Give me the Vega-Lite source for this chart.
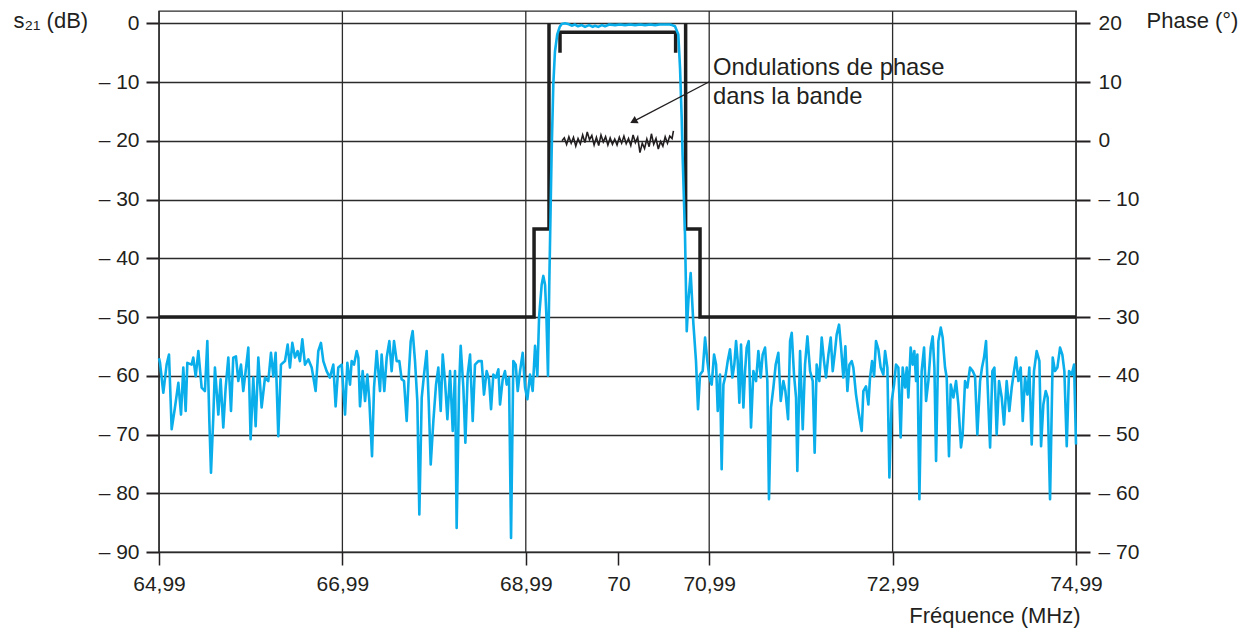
{
"$schema":"https://vega.github.io/schema/vega-lite/v6.json",
"width":917,"height":541,
"autosize":{"type":"none"},
"padding":{"left":159,"top":11,"right":173,"bottom":76},
"background":"white",
"config":{
 "font":"Liberation Sans",
 "locale":{"number":{"decimal":",","thousands":" ","grouping":[3],"currency":["","€"]}},
 "view":{"stroke":"#2b2b2b","strokeWidth":1.4},
 "axis":{"labelFont":"Liberation Sans","labelFontSize":21,"labelColor":"#231f20","labelFlush":false,"labelOverlap":false,"titleFont":"Liberation Sans","titleFontSize":22,"titleFontWeight":"normal","titleColor":"#231f20","tickColor":"#231f20","domain":false,"gridColor":"#2b2b2b","gridWidth":1.3,"gridOpacity":1}
},
"encoding":{
 "x":{"field":"f","type":"quantitative","scale":{"domain":[64.99,74.99],"nice":false,"zero":false},
  "axis":{"values":[64.99,66.99,68.99,70,70.99,72.99,74.99],"format":".2~f","grid":false,"labelFlush":false,"tickSize":13,"tickWidth":1.5,"labelPadding":8,"title":"Fréquence (MHz)","titleX":921,"titleY":70,"titleAlign":"right","titleBaseline":"alphabetic"}}
},
"layer":[
 {"encoding":{
   "y":{"field":"s","type":"quantitative","scale":{"domain":[-90,2.1],"nice":false,"zero":false},
    "axis":{"orient":"left","values":[-90,-80,-70,-60,-50,-40,-30,-20,-10,0],"labelExpr":"datum.value < 0 ? '– ' + format(-datum.value, 'd') : format(datum.value, 'd')","tickSize":13,"tickWidth":2,"labelPadding":7,"grid":true,"title":"s₂₁ (dB)","titleAngle":0,"titleAlign":"left","titleBaseline":"alphabetic","titleX":-146,"titleY":16}}},
  "layer":[
   {"data":{"values":[{"f":64.99},{"f":66.99},{"f":68.99},{"f":70.99},{"f":72.99},{"f":74.99}]},
    "mark":{"type":"rule","color":"#2b2b2b","strokeWidth":1.3},
    "encoding":{"y":{"value":0},"y2":{"value":541}}
   },
   {"data":{"values":[
     {"g":"a","o":1,"f":64.99,"s":-50},{"g":"a","o":2,"f":69.08,"s":-50},{"g":"a","o":3,"f":69.08,"s":-35},{"g":"a","o":4,"f":69.243,"s":-35},{"g":"a","o":5,"f":69.243,"s":0},
     {"g":"b","o":1,"f":70.733,"s":0},{"g":"b","o":2,"f":70.733,"s":-35},{"g":"b","o":3,"f":70.89,"s":-35},{"g":"b","o":4,"f":70.89,"s":-50},{"g":"b","o":5,"f":74.99,"s":-50},
     {"g":"c","o":1,"f":69.363,"s":-5},{"g":"c","o":2,"f":69.363,"s":-1.5},{"g":"c","o":3,"f":70.624,"s":-1.5},{"g":"c","o":4,"f":70.624,"s":-5}
    ]},
    "mark":{"type":"line","color":"#1e1e1e","strokeWidth":3.5,"strokeJoin":"miter","strokeCap":"butt"},
    "encoding":{"detail":{"field":"g"},"order":{"field":"o","type":"quantitative"}}
   },
   {"data":{"values":[
{"f":64.99,"s":-57.0},{"f":65.001,"s":-57.8},{"f":65.037,"s":-62.9},{"f":65.073,"s":-58.1},{"f":65.099,"s":-56.4},{"f":65.128,"s":-69.1},{"f":65.164,"s":-65.4},{"f":65.201,"s":-61.2},{"f":65.23,"s":-66.6},{"f":65.255,"s":-58.6},{"f":65.281,"s":-66.0},{"f":65.299,"s":-57.8},{"f":65.346,"s":-58.1},{"f":65.364,"s":-56.9},{"f":65.39,"s":-60.1},{"f":65.419,"s":-55.8},{"f":65.455,"s":-62.0},{"f":65.491,"s":-62.6},{"f":65.517,"s":-54.1},{"f":65.539,"s":-67.7},{"f":65.557,"s":-76.5},{"f":65.582,"s":-67.1},{"f":65.6,"s":-58.6},{"f":65.637,"s":-66.6},{"f":65.662,"s":-60.6},{"f":65.691,"s":-68.8},{"f":65.717,"s":-62.0},{"f":65.746,"s":-56.9},{"f":65.775,"s":-66.0},{"f":65.8,"s":-56.9},{"f":65.829,"s":-56.7},{"f":65.855,"s":-60.9},{"f":65.884,"s":-58.1},{"f":65.909,"s":-62.6},{"f":65.935,"s":-59.2},{"f":65.964,"s":-55.2},{"f":65.989,"s":-70.8},{"f":66.018,"s":-60.3},{"f":66.044,"s":-68.6},{"f":66.073,"s":-56.9},{"f":66.109,"s":-65.4},{"f":66.146,"s":-60.3},{"f":66.182,"s":-60.9},{"f":66.211,"s":-56.1},{"f":66.237,"s":-60.1},{"f":66.262,"s":-56.1},{"f":66.291,"s":-70.3},{"f":66.32,"s":-58.1},{"f":66.364,"s":-57.5},{"f":66.393,"s":-54.7},{"f":66.418,"s":-58.6},{"f":66.444,"s":-54.4},{"f":66.473,"s":-56.9},{"f":66.502,"s":-55.8},{"f":66.527,"s":-57.5},{"f":66.553,"s":-53.8},{"f":66.582,"s":-58.1},{"f":66.618,"s":-57.2},{"f":66.655,"s":-58.6},{"f":66.698,"s":-62.6},{"f":66.727,"s":-55.8},{"f":66.756,"s":-54.4},{"f":66.782,"s":-57.5},{"f":66.818,"s":-59.2},{"f":66.854,"s":-60.3},{"f":66.891,"s":-58.1},{"f":66.916,"s":-65.2},{"f":66.945,"s":-58.6},{"f":66.982,"s":-58.1},
{"f":67.019,"s":-66.6},{"f":67.044,"s":-57.8},{"f":67.073,"s":-61.5},{"f":67.091,"s":-57.5},{"f":67.117,"s":-58.1},{"f":67.146,"s":-55.8},{"f":67.164,"s":-56.9},{"f":67.182,"s":-65.2},{"f":67.211,"s":-59.2},{"f":67.237,"s":-64.3},{"f":67.262,"s":-59.8},{"f":67.284,"s":-64.3},{"f":67.313,"s":-73.7},{"f":67.335,"s":-62.0},{"f":67.364,"s":-55.8},{"f":67.382,"s":-59.2},{"f":67.4,"s":-62.6},{"f":67.418,"s":-56.4},{"f":67.447,"s":-62.6},{"f":67.473,"s":-56.9},{"f":67.502,"s":-54.1},{"f":67.527,"s":-59.2},{"f":67.553,"s":-54.1},{"f":67.582,"s":-57.5},{"f":67.611,"s":-57.5},{"f":67.636,"s":-60.6},{"f":67.662,"s":-60.9},{"f":67.691,"s":-67.7},{"f":67.716,"s":-59.2},{"f":67.735,"s":-54.1},{"f":67.756,"s":-52.4},{"f":67.782,"s":-57.5},{"f":67.807,"s":-64.3},{"f":67.829,"s":-83.6},{"f":67.855,"s":-63.7},{"f":67.88,"s":-59.8},{"f":67.909,"s":-55.8},{"f":67.931,"s":-64.3},{"f":67.953,"s":-75.1},{"f":67.982,"s":-67.7},{"f":68.011,"s":-61.5},{"f":68.036,"s":-58.6},{"f":68.062,"s":-66.0},{"f":68.084,"s":-56.4},{"f":68.109,"s":-60.9},{"f":68.135,"s":-67.4},{"f":68.164,"s":-59.2},{"f":68.193,"s":-69.4},{"f":68.218,"s":-59.2},{"f":68.236,"s":-85.9},{"f":68.262,"s":-62.0},{"f":68.28,"s":-54.9},{"f":68.309,"s":-62.0},{"f":68.331,"s":-71.4},{"f":68.356,"s":-59.8},{"f":68.382,"s":-56.4},{"f":68.411,"s":-67.7},{"f":68.436,"s":-58.1},{"f":68.473,"s":-57.5},{"f":68.509,"s":-57.5},{"f":68.534,"s":-63.2},{"f":68.563,"s":-59.2},{"f":68.589,"s":-60.6},{"f":68.611,"s":-65.7},{"f":68.636,"s":-59.8},{"f":68.665,"s":-60.3},{"f":68.691,"s":-58.9},{"f":68.709,"s":-64.9},{"f":68.738,"s":-60.6},{"f":68.763,"s":-59.2},{"f":68.782,"s":-61.5},{"f":68.807,"s":-60.3},{"f":68.829,"s":-87.6},{"f":68.854,"s":-57.5},{"f":68.88,"s":-58.1},{"f":68.902,"s":-62.6},{"f":68.927,"s":-59.2},{"f":68.956,"s":-56.1},{"f":68.982,"s":-62.0},{"f":69.007,"s":-64.0},{"f":69.036,"s":-59.8},{"f":69.065,"s":-62.6},{"f":69.091,"s":-54.9},{"f":69.116,"s":-60.0},{"f":69.135,"s":-50.0},{"f":69.163,"s":-44.5},{"f":69.181,"s":-43.0},{"f":69.2,"s":-44.5},{"f":69.215,"s":-50.0},{"f":69.232,"s":-60.0},{"f":69.246,"s":-44.4},{"f":69.262,"s":-30.3},{"f":69.272,"s":-21.8},{"f":69.29,"s":-10.4},{"f":69.308,"s":-4.8},{"f":69.333,"s":-1.9},{"f":69.36,"s":-0.6},{"f":69.381,"s":-0.1},
{"f":69.417,"s":0.0},{"f":69.45,"s":-0.1},{"f":69.49,"s":-0.4},{"f":69.527,"s":-0.2},{"f":69.56,"s":-0.5},{"f":69.6,"s":-0.3},{"f":69.636,"s":-0.6},{"f":69.68,"s":-0.3},{"f":69.72,"s":-0.6},{"f":69.745,"s":-0.4},{"f":69.78,"s":-0.6},{"f":69.82,"s":-0.3},{"f":69.854,"s":-0.5},{"f":69.9,"s":-0.2},{"f":69.963,"s":-0.3},{"f":70.02,"s":-0.2},{"f":70.072,"s":-0.3},{"f":70.13,"s":-0.2},{"f":70.181,"s":-0.3},{"f":70.24,"s":-0.2},{"f":70.29,"s":-0.3},{"f":70.35,"s":-0.2},{"f":70.399,"s":-0.3},{"f":70.45,"s":-0.2},{"f":70.509,"s":-0.2},{"f":70.56,"s":-0.2},{"f":70.585,"s":-0.3},
{"f":70.617,"s":-0.5},{"f":70.653,"s":-1.9},{"f":70.672,"s":-7.6},{"f":70.69,"s":-16.1},{"f":70.7,"s":-22.5},{"f":70.726,"s":-35.9},{"f":70.745,"s":-52.4},{"f":70.764,"s":-47.0},{"f":70.788,"s":-42.5},{"f":70.817,"s":-51.0},
{"f":70.846,"s":-57.5},{"f":70.868,"s":-65.7},{"f":70.89,"s":-59.8},{"f":70.919,"s":-59.2},{"f":70.945,"s":-53.5},{"f":70.97,"s":-57.5},{"f":70.992,"s":-60.3},{"f":71.017,"s":-61.5},{"f":71.043,"s":-56.4},{"f":71.065,"s":-58.1},{"f":71.083,"s":-66.0},{"f":71.108,"s":-59.8},{"f":71.126,"s":-75.9},{"f":71.145,"s":-61.5},{"f":71.17,"s":-59.8},{"f":71.192,"s":-57.5},{"f":71.217,"s":-55.5},{"f":71.243,"s":-60.3},{"f":71.264,"s":-58.1},{"f":71.283,"s":-54.1},{"f":71.301,"s":-57.5},{"f":71.319,"s":-64.6},{"f":71.337,"s":-54.7},{"f":71.363,"s":-65.4},{"f":71.381,"s":-59.2},{"f":71.399,"s":-55.2},{"f":71.421,"s":-54.1},{"f":71.446,"s":-68.8},{"f":71.472,"s":-59.2},{"f":71.501,"s":-60.9},{"f":71.526,"s":-55.8},{"f":71.552,"s":-60.3},{"f":71.573,"s":-56.4},{"f":71.599,"s":-55.2},{"f":71.624,"s":-60.9},{"f":71.642,"s":-81.0},{"f":71.664,"s":-65.4},{"f":71.69,"s":-62.0},{"f":71.715,"s":-58.1},{"f":71.744,"s":-56.1},{"f":71.77,"s":-64.3},{"f":71.799,"s":-60.9},{"f":71.821,"s":-62.6},{"f":71.85,"s":-67.4},{"f":71.872,"s":-54.1},{"f":71.89,"s":-52.7},{"f":71.915,"s":-59.8},{"f":71.937,"s":-63.7},{"f":71.951,"s":-76.2},{"f":71.981,"s":-55.8},{"f":72.01,"s":-69.1},{"f":72.035,"s":-58.1},{"f":72.061,"s":-53.3},{"f":72.09,"s":-59.2},{"f":72.119,"s":-60.9},{"f":72.14,"s":-73.1},{"f":72.162,"s":-58.1},{"f":72.191,"s":-60.9},{"f":72.217,"s":-53.5},{"f":72.242,"s":-57.5},{"f":72.264,"s":-60.3},{"f":72.29,"s":-56.4},{"f":72.315,"s":-53.5},{"f":72.337,"s":-59.2},{"f":72.362,"s":-55.8},{"f":72.38,"s":-53.0},{"f":72.406,"s":-51.3},{"f":72.428,"s":-55.2},{"f":72.453,"s":-60.3},{"f":72.475,"s":-55.0},{"f":72.497,"s":-62.6},{"f":72.519,"s":-58.1},{"f":72.544,"s":-57.5},{"f":72.562,"s":-58.6},{"f":72.591,"s":-63.2},{"f":72.617,"s":-66.0},{"f":72.635,"s":-67.7},{"f":72.653,"s":-69.4},{"f":72.671,"s":-62.6},{"f":72.7,"s":-61.8},{"f":72.726,"s":-64.9},{"f":72.744,"s":-60.3},{"f":72.766,"s":-57.5},{"f":72.788,"s":-60.1},{"f":72.809,"s":-54.1},{"f":72.835,"s":-55.5},{"f":72.86,"s":-58.6},{"f":72.889,"s":-59.8},
{"f":72.908,"s":-55.8},{"f":72.933,"s":-58.6},{"f":72.955,"s":-77.3},{"f":72.98,"s":-64.3},{"f":73.006,"s":-61.5},{"f":73.027,"s":-58.1},{"f":73.053,"s":-58.6},{"f":73.078,"s":-70.5},{"f":73.1,"s":-58.6},{"f":73.126,"s":-62.0},{"f":73.144,"s":-58.6},{"f":73.162,"s":-63.7},{"f":73.187,"s":-55.2},{"f":73.209,"s":-58.1},{"f":73.227,"s":-55.8},{"f":73.246,"s":-60.9},{"f":73.26,"s":-56.4},{"f":73.282,"s":-81.0},{"f":73.307,"s":-59.2},{"f":73.333,"s":-55.2},{"f":73.355,"s":-64.3},{"f":73.38,"s":-60.9},{"f":73.406,"s":-55.2},{"f":73.427,"s":-53.3},{"f":73.446,"s":-58.6},{"f":73.464,"s":-74.5},{"f":73.489,"s":-54.1},{"f":73.515,"s":-51.8},{"f":73.536,"s":-53.5},{"f":73.562,"s":-58.6},{"f":73.58,"s":-60.3},{"f":73.605,"s":-73.7},{"f":73.624,"s":-61.5},{"f":73.653,"s":-63.7},{"f":73.682,"s":-60.9},{"f":73.707,"s":-64.9},{"f":73.736,"s":-72.2},{"f":73.754,"s":-70.0},{"f":73.78,"s":-60.9},{"f":73.805,"s":-62.0},{"f":73.834,"s":-58.6},{"f":73.864,"s":-59.2},{"f":73.889,"s":-60.1},{"f":73.914,"s":-70.0},{"f":73.944,"s":-60.9},{"f":73.965,"s":-58.6},{"f":73.987,"s":-56.9},{"f":74.009,"s":-54.1},{"f":74.023,"s":-60.3},{"f":74.053,"s":-72.2},{"f":74.078,"s":-59.2},{"f":74.1,"s":-58.6},{"f":74.125,"s":-70.0},{"f":74.151,"s":-60.9},{"f":74.18,"s":-63.7},{"f":74.205,"s":-68.3},{"f":74.234,"s":-60.9},{"f":74.263,"s":-66.0},{"f":74.289,"s":-62.0},{"f":74.314,"s":-59.2},{"f":74.336,"s":-56.9},{"f":74.362,"s":-60.9},{"f":74.387,"s":-58.6},{"f":74.409,"s":-67.7},{"f":74.434,"s":-60.3},{"f":74.46,"s":-63.2},{"f":74.481,"s":-58.6},{"f":74.507,"s":-71.7},{"f":74.532,"s":-59.2},{"f":74.561,"s":-55.8},{"f":74.591,"s":-57.5},{"f":74.609,"s":-72.0},{"f":74.634,"s":-64.9},{"f":74.66,"s":-62.6},{"f":74.681,"s":-63.7},{"f":74.707,"s":-81.0},{"f":74.736,"s":-56.9},{"f":74.761,"s":-59.2},{"f":74.787,"s":-58.6},{"f":74.816,"s":-55.2},{"f":74.841,"s":-56.4},{"f":74.863,"s":-59.2},{"f":74.889,"s":-72.0},{"f":74.914,"s":-59.2},{"f":74.943,"s":-59.8},{"f":74.969,"s":-58.1},{"f":74.99,"s":-71.7}
    ]},
    "mark":{"type":"line","color":"#0aaeea","strokeWidth":2.6,"strokeJoin":"round"}
   },
   {"data":{"values":[{"f":71.031,"s":-8.8,"t":"Ondulations de phase\ndans la bande"}]},
    "mark":{"type":"text","align":"left","baseline":"alphabetic","fontSize":23.8,"lineHeight":29,"lineBreak":"\n","color":"#231f20","font":"Liberation Sans"},
    "encoding":{"text":{"field":"t","type":"nominal"}}
   },
   {"data":{"values":[{"f":70.991,"s":-9.94,"f2":70.164,"s2":-16.69}]},
    "mark":{"type":"rule","color":"#231f20","strokeWidth":1.3},
    "encoding":{"x2":{"field":"f2"},"y2":{"field":"s2"}}
   },
   {"data":{"values":[{"f":70.164,"s":-16.69}]},
    "mark":{"type":"point","shape":"triangle-up","angle":242,"size":70,"filled":true,"opacity":1,"color":"#231f20"}
   }
  ]
 },
 {"data":{"values":[
{"f":69.385,"p":0.0},{"f":69.41,"p":0.5},{"f":69.435,"p":-0.6},{"f":69.46,"p":0.7},{"f":69.485,"p":-0.4},{"f":69.51,"p":0.6},{"f":69.535,"p":-0.9},{"f":69.56,"p":0.4},{"f":69.585,"p":-0.5},{"f":69.61,"p":1.0},{"f":69.635,"p":-0.3},{"f":69.66,"p":1.5},{"f":69.685,"p":0.2},{"f":69.71,"p":0.9},{"f":69.735,"p":-0.7},{"f":69.76,"p":0.6},{"f":69.785,"p":-0.8},{"f":69.81,"p":1.0},{"f":69.835,"p":-0.2},{"f":69.86,"p":0.7},{"f":69.885,"p":-0.7},{"f":69.91,"p":0.5},{"f":69.935,"p":-0.6},{"f":69.96,"p":0.3},{"f":69.985,"p":-0.7},{"f":70.01,"p":0.6},{"f":70.035,"p":-0.4},{"f":70.06,"p":0.8},{"f":70.085,"p":-0.5},{"f":70.11,"p":0.4},{"f":70.135,"p":-0.8},{"f":70.16,"p":1.0},{"f":70.185,"p":-0.3},{"f":70.21,"p":0.6},{"f":70.235,"p":-2.0},{"f":70.26,"p":-0.4},{"f":70.285,"p":-1.3},{"f":70.31,"p":0.3},{"f":70.335,"p":-1.0},{"f":70.36,"p":1.2},{"f":70.385,"p":-0.6},{"f":70.41,"p":0.4},{"f":70.435,"p":-1.4},{"f":70.46,"p":-0.1},{"f":70.485,"p":-0.9},{"f":70.51,"p":0.7},{"f":70.535,"p":-0.4},{"f":70.56,"p":0.8},{"f":70.585,"p":0.4},{"f":70.6,"p":1.7}
  ]},
  "mark":{"type":"line","color":"#231f20","strokeWidth":1.6},
  "encoding":{
   "y":{"field":"p","type":"quantitative","scale":{"domain":[-70,22.1],"nice":false,"zero":false},
    "axis":{"orient":"right","values":[-70,-60,-50,-40,-30,-20,-10,0,10,20],"labelExpr":"datum.value < 0 ? '– ' + format(-datum.value, 'd') : format(datum.value, 'd')","tickSize":14,"tickWidth":2,"labelPadding":8,"grid":false,"title":"Phase (°)","titleAngle":0,"titleAlign":"left","titleBaseline":"alphabetic","titleX":70,"titleY":16}}
  }
 }
],
"resolve":{"scale":{"y":"independent"}}
}
